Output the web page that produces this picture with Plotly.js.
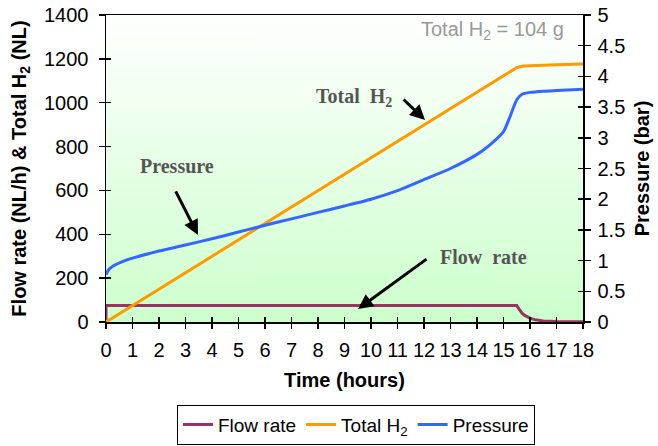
<!DOCTYPE html>
<html>
<head>
<meta charset="utf-8">
<script src="https://cdn.plot.ly/plotly-3.0.1.min.js"></script>
<style>html,body{margin:0;padding:0;background:#fff;}#chart{width:658px;height:446px;}</style>
</head>
<body>
<div id="chart"></div>
<script>
// ---- data ----
var flowTime = [0, 0, 1, 2, 4, 6, 8, 10, 12, 14, 15.5, 15.55, 15.6, 15.7, 15.8, 16, 16.2, 16.5, 17, 17.5, 18];
var flowRate = [0, 75, 75, 75, 75, 75, 75, 75, 75, 75, 75, 65, 55, 40, 30, 18, 10, 5, 2, 1, 1];

var h2Time = [0, 1, 2, 3, 4, 5, 6, 7, 8, 9, 10, 11, 12, 13, 14, 15, 15.5, 15.7, 16, 17, 18];
var h2Total = [0, 75, 150, 225, 300, 375, 450, 525, 600, 675, 750, 825, 900, 975, 1050, 1125, 1160, 1166, 1169, 1173, 1176];

var pTime = [0, 0.1, 0.3, 0.6, 1, 2, 3, 4, 5, 6, 7, 8, 9, 10, 11, 12, 13, 14, 14.5, 15, 15.25, 15.5, 15.7, 16, 16.5, 17, 18];
var pressure = [0.77, 0.85, 0.92, 0.98, 1.04, 1.155, 1.255, 1.355, 1.465, 1.575, 1.68, 1.785, 1.89, 2.0, 2.14, 2.32, 2.5, 2.73, 2.89, 3.1, 3.35, 3.62, 3.71, 3.74, 3.76, 3.77, 3.79];

var xRange = [0, 18];
var yRange = [0, 1400];
var y2Range = [0, 5];

var seriesNames = ["Flow rate", "Total H<sub>2</sub>", "Pressure"];
var seriesColors = ["#993366", "#FF9900", "#3366FF"];

var FONT = "Liberation Sans, Arial, sans-serif";
var SERIF = "Liberation Serif, Times New Roman, serif";

var traces = [
  { // background gradient of the plot area
    x: [xRange[0], xRange[1], xRange[1], xRange[0], xRange[0]],
    y: [yRange[0], yRange[0], yRange[1], yRange[1], yRange[0]],
    mode: "lines", fill: "toself", line: {width: 0},
    fillgradient: {type: "vertical", colorscale: [[0, "#CCFFCC"], [1, "#FFFFFF"]]},
    hoverinfo: "skip", showlegend: false
  },
  {x: flowTime, y: flowRate, name: seriesNames[0], mode: "lines", line: {color: seriesColors[0], width: 3}},
  {x: h2Time, y: h2Total, name: seriesNames[1], mode: "lines", line: {color: seriesColors[1], width: 3}},
  {x: pTime, y: pressure, name: seriesNames[2], mode: "lines", yaxis: "y2",
   line: {color: seriesColors[2], width: 3, shape: "spline", smoothing: 0.6}},
  // helper traces for inside tick marks (crossing ticks)
  {x: [], y: [], xaxis: "x2", yaxis: "y", showlegend: false, hoverinfo: "skip"},
  {x: [], y: [], xaxis: "x", yaxis: "y3", showlegend: false, hoverinfo: "skip"},
  {x: [], y: [], xaxis: "x", yaxis: "y4", showlegend: false, hoverinfo: "skip"}
];

var tickFont = {family: FONT, size: 20, color: "#000"};
var titleFont = {family: FONT, size: 20, color: "#000", weight: "bold"};

var layout = {
  width: 658, height: 446,
  margin: {l: 106, r: 75, t: 15, b: 124},
  paper_bgcolor: "#FFFFFF",
  plot_bgcolor: "rgba(0,0,0,0)",
  showlegend: true,
  xaxis: {
    range: xRange, dtick: 1, tick0: 0, ticks: "outside", ticklen: 5, tickwidth: 1.5, tickcolor: "#000",
    showline: true, linecolor: "#000", linewidth: 1.5, mirror: true, showgrid: false, zeroline: false,
    tickfont: tickFont, ticklabelstandoff: 4, automargin: false,
    title: {text: "Time (hours)", font: titleFont, standoff: 13}
  },
  xaxis2: {
    overlaying: "x", anchor: "y", range: xRange, dtick: 1, tick0: 0, ticks: "inside", ticklen: 5, tickwidth: 1.5,
    tickcolor: "#000", showticklabels: false, showline: false, showgrid: false, zeroline: false
  },
  yaxis: {
    range: yRange, dtick: 200, ticks: "outside", ticklen: 6, tickwidth: 1.5, tickcolor: "#000",
    showline: true, linecolor: "#000", linewidth: 1.5, showgrid: false, zeroline: false,
    tickfont: tickFont, ticklabelstandoff: 6, automargin: false,
    title: {text: "Flow rate (NL/h) & Total H<sub>2</sub> (NL)", font: titleFont, standoff: 12}
  },
  yaxis3: {
    overlaying: "y", range: yRange, dtick: 200, ticks: "inside", ticklen: 5, tickwidth: 1.5, tickcolor: "#000",
    showticklabels: false, showline: false, showgrid: false, zeroline: false
  },
  yaxis2: {
    overlaying: "y", side: "right", anchor: "x", range: y2Range, dtick: 0.5, ticks: "outside", ticklen: 6,
    tickwidth: 1.5, tickcolor: "#000", showline: true, linecolor: "#000", linewidth: 1.5,
    showgrid: false, zeroline: false, tickfont: tickFont, ticklabelstandoff: 3, automargin: false,
    title: {text: "Pressure (bar)", font: titleFont, standoff: 10}
  },
  yaxis4: {
    overlaying: "y", side: "right", anchor: "x", range: y2Range, dtick: 0.5, ticks: "inside", ticklen: 5,
    tickwidth: 1.5, tickcolor: "#000", showticklabels: false, showline: false, showgrid: false, zeroline: false
  },
  legend: {
    orientation: "h", xref: "paper", x: 0.524, xanchor: "center",
    yref: "container", y: 0.003, yanchor: "bottom",
    bordercolor: "#000", borderwidth: 1, bgcolor: "#FFFFFF",
    font: {family: FONT, size: 19, color: "#000"}, itemwidth: 30
  },
  annotations: [
    {xref: "paper", yref: "paper", x: 0.811, y: 0.948, xanchor: "center", yanchor: "middle",
     text: "Total H<sub>2</sub> = 104 g", showarrow: false,
     font: {family: FONT, size: 20, color: "#999999"}},
    {x: 2.68, y: 711, xanchor: "center", yanchor: "middle", text: "Pressure", showarrow: false,
     font: {family: SERIF, size: 20, color: "#555555", weight: "bold"}},
    {x: 9.36, y: 1026, xanchor: "center", yanchor: "middle", text: "Total  H<sub>2</sub>", showarrow: false,
     font: {family: SERIF, size: 20, color: "#555555", weight: "bold"}},
    {x: 14.23, y: 296, xanchor: "center", yanchor: "middle", text: "Flow  rate", showarrow: false,
     font: {family: SERIF, size: 20, color: "#555555", weight: "bold"}},
    {x: 3.47, y: 397, ax: -23, ay: -45, text: "", showarrow: true, arrowhead: 2, arrowsize: 1, arrowwidth: 3, arrowcolor: "#000"},
    {x: 12.04, y: 921, ax: -23, ay: -22, text: "", showarrow: true, arrowhead: 2, arrowsize: 1, arrowwidth: 3, arrowcolor: "#000"},
    {x: 9.51, y: 59, ax: 70, ay: -51, text: "", showarrow: true, arrowhead: 2, arrowsize: 1, arrowwidth: 3, arrowcolor: "#000"}
  ]
};

Plotly.newPlot("chart", traces, layout, {staticPlot: true, displayModeBar: false});
</script>
</body>
</html>
